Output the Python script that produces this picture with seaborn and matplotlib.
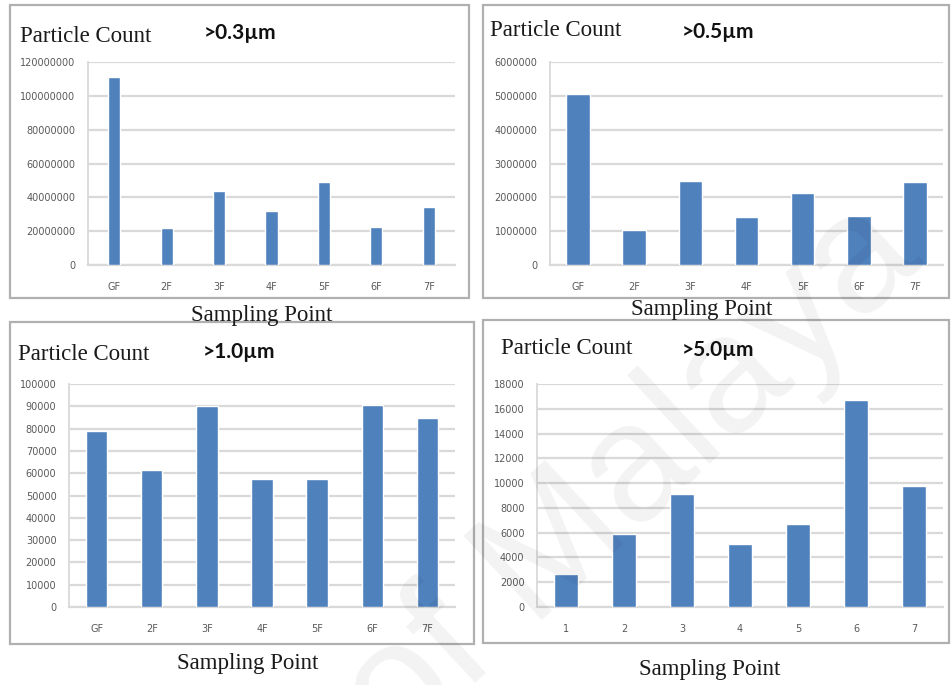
import matplotlib
matplotlib.use("Agg")
import matplotlib.pyplot as plt
from matplotlib.patches import Rectangle
import seaborn as sns
import pandas as pd

# ---- data -------------------------------------------------------------
floors = ["GF", "2F", "3F", "4F", "5F", "6F", "7F"]
points = ["1", "2", "3", "4", "5", "6", "7"]

count_03 = [110900000, 21900000, 43800000, 32200000, 49100000, 22300000, 34300000]
count_05 = [5050000, 1046000, 2470000, 1430000, 2120000, 1450000, 2450000]
count_10 = [79000, 61600, 90300, 57400, 57400, 90600, 84900]
count_50 = [2640, 5870, 9160, 5090, 6680, 16700, 9780]

ticks_03 = [0, 20000000, 40000000, 60000000, 80000000, 100000000, 120000000]
ticks_05 = [0, 1000000, 2000000, 3000000, 4000000, 5000000, 6000000]
ticks_10 = list(range(0, 100001, 10000))
ticks_50 = list(range(0, 18001, 2000))

titles = [">0.3µm", ">0.5µm", ">1.0µm", ">5.0µm"]

# ---- figure ------------------------------------------------------------
W, H = 951, 685
sns.set_theme(style="white")
plt.rcParams["font.family"] = ["DejaVu Sans"]
fig = plt.figure(figsize=(W / 100, H / 100), dpi=100)
fig.patch.set_facecolor("white")

BAR = "#4F81BD"
GRID = "#d9d9d9"
TXT = "#595959"
SERIF = "Liberation Serif"


def fx(px):
    return px / W


def fy(py):
    return 1 - py / H


def frame(x0, y0, x1, y1):
    fig.patches.append(Rectangle((fx(x0), fy(y1)), fx(x1 - x0), (y1 - y0) / H,
                                 transform=fig.transFigure, fill=False,
                                 edgecolor="#b0b0b0", lw=1.6, zorder=0))


def panel(box, cats, vals, ticks, width, title, tpos, ppos, spos):
    x0, y0, x1, y1 = box
    ax = fig.add_axes([fx(x0), fy(y1), fx(x1 - x0), (y1 - y0) / H])
    df = pd.DataFrame({"cat": cats, "val": vals})
    sns.barplot(data=df, x="cat", y="val", ax=ax, color=BAR, saturation=1,
                width=width, zorder=3)
    ax.set_ylim(0, ticks[-1])
    ax.set_xlim(-0.5, len(cats) - 0.5)
    ax.set_yticks(ticks)
    ax.set_yticklabels([str(t) for t in ticks])
    ax.yaxis.grid(True, color=GRID, lw=1.6, zorder=0)
    ax.set_axisbelow(True)
    for s in ["top", "right"]:
        ax.spines[s].set_visible(False)
    ax.spines["left"].set_color(GRID)
    ax.spines["left"].set_linewidth(1.3)
    ax.spines["bottom"].set_color(GRID)
    ax.spines["bottom"].set_linewidth(1.6)
    ax.tick_params(axis="y", length=0, pad=9, labelsize=7, labelcolor=TXT)
    ax.tick_params(axis="x", which="major", length=0, pad=12, labelsize=7,
                   labelcolor=TXT)
    ax.set_xticks([i - 0.5 for i in range(len(cats) + 1)], minor=True)
    ax.tick_params(axis="x", which="minor", length=4, width=1.2, color=GRID,
                   direction="out")
    ax.set_xlabel("")
    ax.set_ylabel("")
    ax.set_facecolor("none")
    fig.text(fx(tpos[0]), fy(tpos[1]), "Particle Count", family=SERIF,
             fontsize=16.5, va="center", ha="left", color="#1a1a1a")
    fig.text(fx(ppos[0]), fy(ppos[1]), title, family=["Lato", "DejaVu Sans"],
             fontsize=15, weight="bold", va="center", ha="left",
             color="#111111")
    fig.text(fx(spos[0]), fy(spos[1]), "Sampling Point", family=SERIF,
             fontsize=16.5, va="center", ha="center", color="#1a1a1a")
    return ax


# panel frames
frame(10, 5, 469, 298)
frame(483, 5, 949, 298)
frame(10, 322, 474, 644)
frame(483, 320, 949, 643)

panel((88, 62, 455, 265), floors, count_03, ticks_03, 0.23, titles[0],
      (20, 37), (204, 33), (262, 315))
panel((550, 62, 943, 265), floors, count_05, ticks_05, 0.42, titles[1],
      (490, 31), (682, 32), (702, 309))
panel((69, 384, 455, 607), floors, count_10, ticks_10, 0.39, titles[2],
      (18, 355), (203, 352), (248, 664))
panel((537, 384, 943, 607), points, count_50, ticks_50, 0.41, titles[3],
      (501, 349), (682, 350), (710, 670))

# faint diagonal watermark running off the lower edge
fig.text(fx(632), fy(478), "of Malaya", family="Liberation Sans", fontsize=120,
         rotation=43, rotation_mode="anchor", ha="center", va="center",
         color="black", alpha=0.05, zorder=100)

fig.savefig("out.png", dpi=100, facecolor="white")
